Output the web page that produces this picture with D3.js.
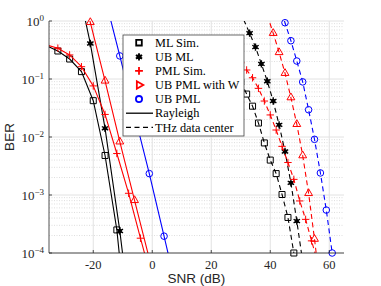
<!DOCTYPE html>
<html>
<head>
<meta charset="utf-8">
<script src="https://cdn.jsdelivr.net/npm/d3@7"></script>
<style>
  body { margin: 0; background: #fff; }
</style>
</head>
<body>
<div id="chart-area"></div>
<script>

// ---- data ----
// Rayleigh (solid)
var snrMLSimRay   = [-36, -32, -28, -24, -20, -16, -12, -8];
var berMLSimRay   = [0.38, 0.304, 0.221, 0.134, 0.0423, 0.0048, 2.5e-4, 2.5e-6];
var snrUBMLRay    = [-26, -21, -16, -11, -6];
var berUBMLRay    = [6.3, 0.41, 0.0141, 2.4e-4, 2e-6];
var snrPMLSimRay  = [-36, -32, -28, -24, -20, -16, -12, -8, -4, 0];
var berPMLSimRay  = [0.39, 0.34, 0.26, 0.163, 0.076, 0.0245, 0.0052, 0.00107, 1.8e-4, 3.2e-5];
var snrUBPMLWRay  = [-26, -21, -16, -11, -6, -1];
var berUBPMLWRay  = [9, 0.95, 0.093, 0.0083, 8.1e-4, 8e-5];
var snrUBPMLRay   = [-16, -11, -6, -1, 4, 9];
var berUBPMLRay   = [2.5, 0.25, 0.024, 0.00234, 1.95e-4, 1.6e-5];

// THz data center (dashed)
var snrMLSimTHz   = [30, 32, 34, 36, 38, 40, 42, 44, 46, 48];
var berMLSimTHz   = [0.089, 0.055, 0.034, 0.0174, 0.0079, 0.0040, 0.00234, 0.00102, 4.1e-4, 1.0e-4];
var snrUBMLTHz    = [31, 33, 35, 37, 39, 41, 43, 45, 47, 49, 51];
var berUBMLTHz    = [1.05, 0.617, 0.355, 0.182, 0.0912, 0.0417, 0.0162, 0.00562, 0.00162, 3.55e-4, 7.1e-5];
var snrPMLSimTHz  = [30, 32, 34, 36, 38, 40, 42, 44, 46, 48, 50, 52, 54, 56];
var berPMLSimTHz  = [0.19, 0.143, 0.105, 0.069, 0.0417, 0.024, 0.0132, 0.0069, 0.00363, 0.00186, 7.9e-4, 3.8e-4, 1.62e-4, 7.1e-5];
var snrUBPMLWTHz  = [39, 41, 43, 45, 47, 49, 51, 53, 55, 57];
var berUBPMLWTHz  = [1.26, 0.617, 0.288, 0.126, 0.0479, 0.0166, 0.00479, 0.00107, 1.74e-4, 2.5e-5];
var snrUBPMLTHz   = [43, 45, 47, 49, 51, 53, 55, 57, 59, 61];
var berUBPMLTHz   = [1.9, 0.933, 0.457, 0.204, 0.0891, 0.0295, 0.00912, 0.0024, 5.5e-4, 1.0e-4];

var xTicks = [-20, 0, 20, 40, 60];
var yTickExp = [0, -1, -2, -3, -4];
var legendNames = ["ML Sim.", "UB ML", "PML Sim.", "UB PML with W", "UB PML", "Rayleigh", "THz data center"];

var series = [
    { x: snrMLSimRay,  y: berMLSimRay,  color: "#000", marker: "square",   dash: null },
    { x: snrUBMLRay,   y: berUBMLRay,   color: "#000", marker: "star",     dash: null },
    { x: snrPMLSimRay, y: berPMLSimRay, color: "#f00", marker: "plus",     dash: null },
    { x: snrUBPMLWRay, y: berUBPMLWRay, color: "#f00", marker: "triangle", dash: null },
    { x: snrUBPMLRay,  y: berUBPMLRay,  color: "#00f", marker: "circle",   dash: null },
    { x: snrMLSimTHz,  y: berMLSimTHz,  color: "#000", marker: "square",   dash: "5,3.5" },
    { x: snrUBMLTHz,   y: berUBMLTHz,   color: "#000", marker: "star",     dash: "5,3.5" },
    { x: snrPMLSimTHz, y: berPMLSimTHz, color: "#f00", marker: "plus",     dash: "5,3.5" },
    { x: snrUBPMLWTHz, y: berUBPMLWTHz, color: "#f00", marker: "triangle", dash: "5,3.5" },
    { x: snrUBPMLTHz,  y: berUBPMLTHz,  color: "#00f", marker: "circle",   dash: "5,3.5" }
];

var W = 381, H = 286;
var pLeft = 49, pRight = 344, pTop = 21, pBottom = 253;

var svg = d3.select("#chart-area")
    .append("svg")
        .attr("width", W)
        .attr("height", H);

svg.append("rect").attr("width", W).attr("height", H).attr("fill", "#fff");

// X Scale
var x = d3.scaleLinear().domain([-35, 65]).range([pLeft, pRight]);

// Y Scale
var y = d3.scaleLog().domain([1e-4, 1]).range([pBottom, pTop]);

// grid
var grid = svg.append("g");
for (var e = -4; e < 0; e++) {
    for (var m = 2; m <= 9; m++) {
        var v = m * Math.pow(10, e);
        grid.append("line")
            .attr("x1", pLeft).attr("x2", pRight)
            .attr("y1", y(v)).attr("y2", y(v))
            .attr("stroke", "#c8c8c8")
            .attr("stroke-width", 0.6)
            .attr("stroke-dasharray", "1,1.5");
    }
}
yTickExp.forEach(function(e) {
    grid.append("line")
        .attr("x1", pLeft).attr("x2", pRight)
        .attr("y1", y(Math.pow(10, e))).attr("y2", y(Math.pow(10, e)))
        .attr("stroke", "#e2e2e2").attr("stroke-width", 1);
});
xTicks.forEach(function(t) {
    grid.append("line")
        .attr("x1", x(t)).attr("x2", x(t))
        .attr("y1", pTop).attr("y2", pBottom)
        .attr("stroke", "#e2e2e2").attr("stroke-width", 1);
});

// clip for the curves
svg.append("clipPath").attr("id", "plot-clip")
    .append("rect")
        .attr("x", pLeft).attr("y", pTop)
        .attr("width", pRight - pLeft).attr("height", pBottom - pTop);

var line = d3.line()
    .x(function(d) { return x(d[0]); })
    .y(function(d) { return y(d[1]); });

function drawMarker(sel, type, color, px, py, legend) {
    var g = sel.append("g").attr("transform", "translate(" + px + "," + py + ")");
    var sw = legend ? 1.8 : 1;
    if (type == "square") {
        g.append("path").attr("d", d3.symbol(d3.symbolSquare2, legend ? 40 : 46)())
            .attr("fill", "none").attr("stroke", color).attr("stroke-width", sw);
    } else if (type == "circle") {
        g.append("path").attr("d", d3.symbol(d3.symbolCircle, legend ? 30 : 34)())
            .attr("fill", "none").attr("stroke", color).attr("stroke-width", sw);
    } else if (type == "plus") {
        g.append("path").attr("d", d3.symbol(d3.symbolPlus, legend ? 22 : 20)())
            .attr("fill", "none").attr("stroke", color).attr("stroke-width", sw);
    } else if (type == "triangle") {
        g.append("path").attr("d", d3.symbol(d3.symbolTriangle2, legend ? 40 : 44)())
            .attr("transform", legend ? "rotate(90)" : null)
            .attr("fill", "none").attr("stroke", color).attr("stroke-width", sw);
    } else if (type == "star") {
        g.append("path").attr("d", d3.symbol(d3.symbolAsterisk, legend ? 36 : 38)())
            .attr("fill", "none").attr("stroke", color).attr("stroke-width", legend ? 1.8 : 1.4);
        g.append("circle").attr("r", legend ? 2.5 : 2.2).attr("fill", color);
    }
}

var curves = svg.append("g");
series.forEach(function(s) {
    var pts = s.x.map(function(v, i) { return [v, s.y[i]]; });
    curves.append("path")
        .datum(pts)
        .attr("clip-path", "url(#plot-clip)")
        .attr("d", line)
        .attr("fill", "none")
        .attr("stroke", s.color)
        .attr("stroke-width", 1.1)
        .attr("stroke-dasharray", s.dash);
    pts.forEach(function(p) {
        if (p[1] > 1.001 || p[1] < 0.999e-4 || p[0] < -35 || p[0] > 65) return;
        drawMarker(curves, s.marker, s.color, x(p[0]), y(p[1]), false);
    });
});

// axes
var axisColor = "#262626";
svg.append("line").attr("x1", pLeft).attr("x2", pLeft).attr("y1", pTop).attr("y2", pBottom)
    .attr("stroke", axisColor).attr("stroke-width", 0.8);
svg.append("line").attr("x1", pLeft).attr("x2", pRight).attr("y1", pBottom).attr("y2", pBottom)
    .attr("stroke", axisColor).attr("stroke-width", 0.8);

xTicks.forEach(function(t) {
    svg.append("line").attr("x1", x(t)).attr("x2", x(t)).attr("y1", pBottom).attr("y2", pBottom - 3)
        .attr("stroke", axisColor).attr("stroke-width", 0.8);
    svg.append("text")
        .attr("x", x(t)).attr("y", 268.5)
        .attr("text-anchor", "middle")
        .attr("font-family", "Liberation Serif")
        .attr("font-size", "12.5px")
        .attr("fill", axisColor)
        .text(t);
});

yTickExp.forEach(function(e) {
    var py = y(Math.pow(10, e));
    svg.append("line").attr("x1", pLeft).attr("x2", pLeft + 3).attr("y1", py).attr("y2", py)
        .attr("stroke", axisColor).attr("stroke-width", 0.8);
    var t = svg.append("text")
        .attr("x", 44).attr("y", py + 4.5)
        .attr("text-anchor", "end")
        .attr("font-family", "Liberation Serif")
        .attr("font-size", "13px")
        .attr("fill", axisColor);
    t.append("tspan").text("10");
    t.append("tspan").attr("dy", -5).attr("font-size", "9px")
        .text(e == 0 ? "0" : "\u2212" + (-e));
});

// X Label
svg.append("text")
    .attr("x", (pLeft + pRight) / 2).attr("y", 283)
    .attr("text-anchor", "middle")
    .attr("font-family", "Liberation Sans")
    .attr("font-size", "13.5px")
    .attr("fill", axisColor)
    .text("SNR (dB)");

// Y Label
svg.append("text")
    .attr("transform", "translate(14," + ((pTop + pBottom) / 2) + ") rotate(-90)")
    .attr("text-anchor", "middle")
    .attr("font-family", "Liberation Sans")
    .attr("font-size", "13.5px")
    .attr("fill", axisColor)
    .text("BER");

// Legend
var lg = svg.append("g");
lg.append("rect")
    .attr("x", 123).attr("y", 35).attr("width", 121).attr("height", 101)
    .attr("fill", "#fff").attr("stroke", "#444").attr("stroke-width", 0.8);

var legendMarkers = [["square", "#000"], ["star", "#000"], ["plus", "#f00"], ["triangle", "#f00"], ["circle", "#00f"]];
legendNames.forEach(function(name, i) {
    var ly = 42.7 + i * 14.1;
    if (i < 5) {
        drawMarker(lg, legendMarkers[i][0], legendMarkers[i][1], 139, ly, true);
    } else {
        lg.append("line")
            .attr("x1", 126).attr("x2", 153).attr("y1", ly).attr("y2", ly)
            .attr("stroke", "#000").attr("stroke-width", 1.3)
            .attr("stroke-dasharray", i == 6 ? "5,3.5" : null);
    }
    lg.append("text")
        .attr("x", 155).attr("y", ly + 4.2)
        .attr("font-family", "Liberation Serif")
        .attr("font-size", "12.3px")
        .attr("fill", "#000")
        .text(name);
});

</script>
</body>
</html>
